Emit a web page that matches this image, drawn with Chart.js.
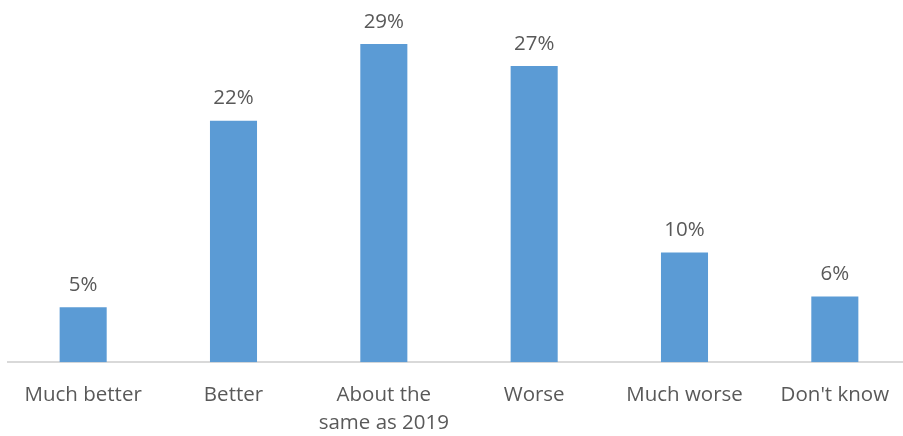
<!DOCTYPE html>
<html>
<head>
<meta charset="utf-8">
<script src="https://cdn.jsdelivr.net/npm/chart.js@4"></script>
<style>
  html, body { margin: 0; padding: 0; background: #fff; overflow: hidden; }
  #wrap { position: absolute; left: 0; top: 0; width: 910px; height: 456px; }
</style>
</head>
<body>
<div id="wrap"><canvas id="grafico"></canvas></div>
<script>
// Respuestas comparadas con 2019
const categorias = ["Much better", "Better", ["About the", "same as 2019"], "Worse", "Much worse", "Don't know"];
const porcentajes = [5, 22, 29, 27, 10, 6];
const colorBarra = "#5B9BD5";
const colorTexto = "#595959";

// Etiqueta con el valor encima de cada barra
const etiquetasValor = {
    id: "etiquetasValor",
    afterDatasetsDraw(chart) {
        const ctx = chart.ctx;
        const meta = chart.getDatasetMeta(0);
        ctx.save();
        ctx.font = "20.5px 'Open Sans'";
        ctx.fillStyle = colorTexto;
        ctx.textAlign = "center";
        ctx.textBaseline = "bottom";
        meta.data.forEach((barra, i) => {
            ctx.fillText(porcentajes[i] + "%", barra.x, barra.y - 12);
        });
        ctx.restore();
    }
};

new Chart(document.getElementById("grafico").getContext("2d"), {
    type: "bar",
    data: {
        labels: categorias,
        datasets: [{
            data: porcentajes,
            backgroundColor: colorBarra,
            barPercentage: 1,
            categoryPercentage: 0.313
        }]
    },
    options: {
        responsive: true,
        maintainAspectRatio: false,
        animation: false,
        layout: { padding: { left: 8, right: 0, top: 33, bottom: 0 } },
        plugins: { legend: { display: false }, tooltip: { enabled: false } },
        scales: {
            x: {
                grid: { display: false, drawTicks: false },
                border: { color: "#D9D9D9", width: 2 },
                ticks: {
                    color: colorTexto,
                    font: { family: "'Open Sans'", size: 20.5, lineHeight: 1.36 },
                    padding: 19,
                    maxRotation: 0,
                    autoSkip: false
                }
            },
            y: {
                display: false,
                min: 0,
                max: 30
            }
        }
    },
    plugins: [etiquetasValor]
});
</script>
</body>
</html>
